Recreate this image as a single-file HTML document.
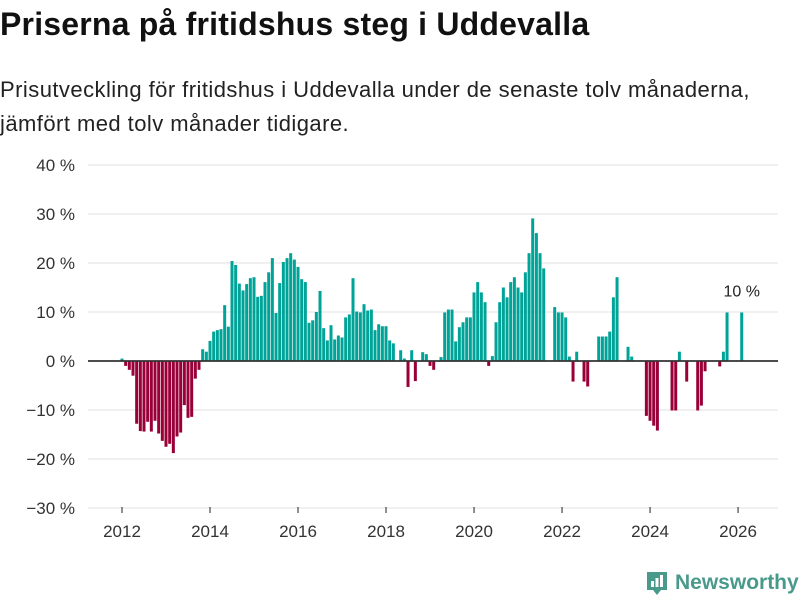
<!DOCTYPE html>
<html><head><meta charset="utf-8"><style>
body{margin:0;background:#fff;font-family:"Liberation Sans",sans-serif;}
#wrap{position:relative;width:800px;height:600px;overflow:hidden;}
h1{position:absolute;left:0;top:6px;margin:0;font-size:32px;font-weight:bold;color:#111;letter-spacing:0.2px;white-space:nowrap;}
p.sub{position:absolute;left:0;top:73px;margin:0;font-size:22px;line-height:34px;color:#222;letter-spacing:0.45px;white-space:nowrap;}
svg{position:absolute;left:0;top:0;}
.logo{position:absolute;left:645px;top:570px;display:flex;align-items:center;gap:6px;color:#4a9a8c;font-size:21px;font-weight:bold;}
</style></head><body>
<div id="wrap">
<h1>Priserna på fritidshus steg i Uddevalla</h1>
<p class="sub">Prisutveckling för fritidshus i Uddevalla under de senaste tolv månaderna,<br>jämfört med tolv månader tidigare.</p>
<svg id="chart" width="800" height="600"></svg>
<div class="logo">
<svg width="24" height="26" viewBox="0 0 24 26" style="position:static"><path d="M2 2h20v18l-6 0-4 5-4-5H2z" fill="#4a9a8c"/><rect x="6" y="11" width="3" height="6" fill="#fff"/><rect x="10.5" y="8" width="3" height="9" fill="#fff"/><rect x="15" y="5" width="3" height="12" fill="#fff"/></svg>
<span>Newsworthy</span></div>
</div>
<script>
const startYear = 2012;
const values = [0.5,-1,-1.8,-3,-12.8,-14.3,-14.4,-12.4,-14.4,-12.2,-14.8,-16.3,
-17.5,-16.9,-18.8,-15.4,-14.6,-9,-11.6,-11.4,-3.6,-1.8,2.4,1.9,
4.1,6,6.3,6.5,11.4,7,20.4,19.6,15.8,14.4,15.7,16.9,
17.1,13.1,13.3,16.1,18.1,21,9.8,15.9,20.2,21,22,20.7,
19.2,16.7,16.1,7.8,8.3,10,14.3,6.7,4.2,7.3,4.4,5.2,
4.8,8.9,9.5,16.9,10.1,9.9,11.6,10.3,10.5,6.3,7.5,7.1,
7.1,4.2,3.6,null,2.2,0.5,-5.3,2.2,-4.1,null,1.8,1.4,
-1,-1.8,null,0.8,9.9,10.5,10.5,4,6.9,7.9,8.9,8.9,
14,16.1,14,12,-1,1,7.9,12,15,13,16.1,17.1,
15,14,18.1,22,29.1,26.1,22,18.9,null,null,11,9.9,
9.9,8.9,0.9,-4.2,1.9,null,-4.2,-5.2,null,null,5,5,
5,6,13,17.1,null,null,2.9,0.9,null,null,null,-11.2,
-12.2,-13.2,-14.2,null,null,null,-10.1,-10.1,1.9,null,-4.2,null,
null,-10.1,-9.1,-2.1,null,null,null,-1.1,1.9,9.9,null,null,
null,9.9];
const yTicks = [40,30,20,10,0,-10,-20,-30];
const xTickYears = [2012,2014,2016,2018,2020,2022,2024,2026];
const lastLabel = "10 %";

const NS="http://www.w3.org/2000/svg";
const svg=document.getElementById('chart');
const x0=122, pxPerMonth=3.667, yZero=361, pxPerPct=4.9;
const xScale=i=>x0+i*pxPerMonth;
const yScale=v=>yZero-v*pxPerPct;
function mk(tag,attrs){const e=document.createElementNS(NS,tag);for(const k in attrs)e.setAttribute(k,attrs[k]);svg.appendChild(e);return e;}

yTicks.forEach(t=>{
  if(t!==0){const g=mk('line',{x1:88,x2:778,y1:yScale(t),y2:yScale(t),stroke:'#e0e0e0','stroke-width':1});
  
  }
  const tx=mk('text',{x:75,y:yScale(t)+6,'text-anchor':'end','font-size':17,fill:'#333','font-family':'Liberation Sans, sans-serif'});
  tx.textContent=(t<0?'\u2212'+Math.abs(t):t)+' %';
  
  
});
xTickYears.forEach(y=>{
  const x=xScale((y-startYear)*12);
  const l=mk('line',{x1:x,x2:x,y1:507,y2:513,stroke:'#444','stroke-width':1.2});
  
  
  const tx=mk('text',{x:x,y:537,'text-anchor':'middle','font-size':17,fill:'#333','font-family':'Liberation Sans, sans-serif'});
  tx.textContent=y;
  
  
});
let lastIdx=-1;
values.forEach((v,i)=>{
  if(v===null)return;
  lastIdx=i;
  const x=xScale(i)-1.5;
  const y=v>=0?yScale(v):yZero;
  const h=Math.abs(yScale(v)-yZero);
  const r=mk('rect',{x:x,y:y,width:3,height:h,fill:v>=0?'#00a397':'#990038'});
  
  
});
const z=mk('line',{x1:88,x2:778,y1:yZero,y2:yZero,stroke:'#333','stroke-width':1.8});


const lb=mk('text',{x:xScale(lastIdx),y:yScale(values[lastIdx])-16,'text-anchor':'middle','font-size':16,fill:'#222','font-family':'Liberation Sans, sans-serif'});
lb.textContent=lastLabel;


</script>
</body></html>
